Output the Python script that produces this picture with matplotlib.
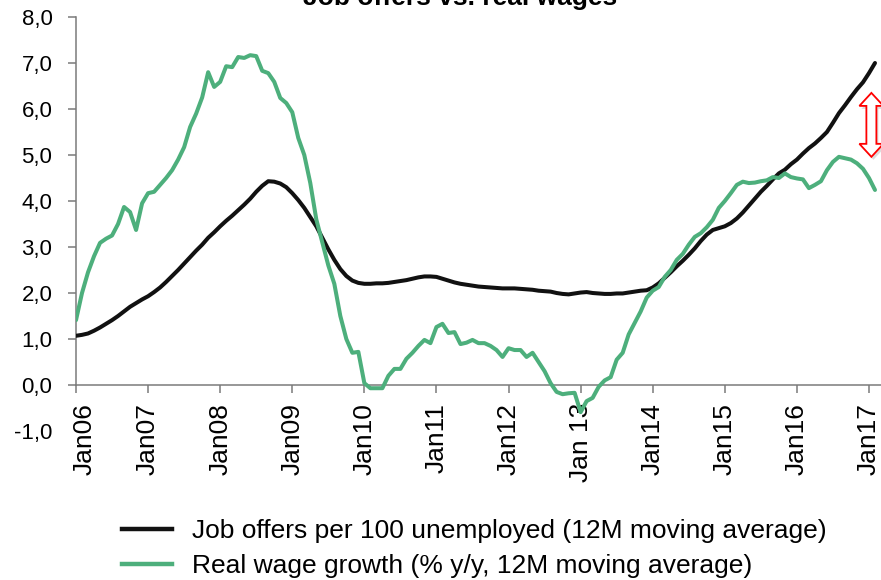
import numpy as np
import matplotlib
matplotlib.use("Agg")
import matplotlib.pyplot as plt
import matplotlib.patches as patches
import matplotlib.transforms as mtransforms
from matplotlib.lines import Line2D

plt.rcParams['font.family'] = ['Liberation Sans', 'DejaVu Sans']

# monthly data, Jan 2006 .. Feb 2017
job_offers = [
    1.07, 1.09, 1.12, 1.18, 1.25, 1.33, 1.41, 1.50, 1.60, 1.70, 1.78, 1.86,
    1.93, 2.02, 2.12, 2.24, 2.37, 2.50, 2.64, 2.78, 2.92, 3.05, 3.20, 3.32,
    3.45, 3.57, 3.68, 3.80, 3.92, 4.05, 4.20, 4.33, 4.43, 4.42, 4.38, 4.30,
    4.17, 4.02, 3.85, 3.65, 3.45, 3.20, 2.95, 2.72, 2.52, 2.37, 2.27, 2.22,
    2.20, 2.20, 2.21, 2.21, 2.22, 2.24, 2.26, 2.28, 2.31, 2.34, 2.36, 2.36,
    2.35, 2.31, 2.27, 2.23, 2.20, 2.18, 2.16, 2.14, 2.13, 2.12, 2.11, 2.10,
    2.10, 2.10, 2.09, 2.08, 2.07, 2.05, 2.04, 2.03, 2.00, 1.98, 1.97, 1.99,
    2.01, 2.02, 2.00, 1.99, 1.98, 1.98, 1.99, 1.99, 2.01, 2.03, 2.05, 2.06,
    2.12, 2.21, 2.33, 2.45, 2.58, 2.70, 2.83, 2.97, 3.13, 3.27, 3.37, 3.41,
    3.45, 3.52, 3.62, 3.75, 3.90, 4.05, 4.20, 4.33, 4.47, 4.60, 4.68, 4.80,
    4.90, 5.03, 5.15, 5.25, 5.37, 5.50, 5.70, 5.91, 6.08, 6.26, 6.43, 6.58,
    6.78, 7.00,
]
real_wages = [
    1.41, 2.00, 2.45, 2.80, 3.09, 3.18, 3.25, 3.50, 3.87, 3.76, 3.37, 3.95,
    4.17, 4.20, 4.35, 4.50, 4.67, 4.90, 5.17, 5.61, 5.90, 6.25, 6.80, 6.48,
    6.59, 6.93, 6.91, 7.13, 7.11, 7.17, 7.15, 6.83, 6.78, 6.59, 6.24, 6.13,
    5.93, 5.37, 5.00, 4.39, 3.60, 3.10, 2.60, 2.20, 1.50, 1.00, 0.70, 0.72,
    0.04, -0.07, -0.07, -0.07, 0.20, 0.35, 0.35, 0.57, 0.70, 0.85, 0.98, 0.91,
    1.26, 1.33, 1.13, 1.15, 0.89, 0.92, 0.98, 0.91, 0.91, 0.85, 0.76, 0.61,
    0.80, 0.76, 0.76, 0.61, 0.70, 0.50, 0.30, 0.04, -0.15, -0.20, -0.18, -0.17,
    -0.59, -0.35, -0.28, -0.04, 0.10, 0.17, 0.55, 0.70, 1.10, 1.35, 1.60, 1.90,
    2.05, 2.13, 2.35, 2.50, 2.72, 2.85, 3.05, 3.22, 3.30, 3.43, 3.59, 3.85,
    4.00, 4.17, 4.35, 4.42, 4.39, 4.40, 4.43, 4.45, 4.52, 4.50, 4.60, 4.52,
    4.49, 4.47, 4.28, 4.35, 4.43, 4.67, 4.85, 4.96, 4.93, 4.90, 4.82, 4.70,
    4.50, 4.24,
]
year_labels = ["Jan06", "Jan07", "Jan08", "Jan09", "Jan10", "Jan11",
               "Jan12", "Jan 13", "Jan14", "Jan15", "Jan16", "Jan17"]
y_ticks = [-1, 0, 1, 2, 3, 4, 5, 6, 7, 8]
series_names = ["Job offers per 100 unemployed (12M moving average)",
                "Real wage growth (% y/y, 12M moving average)"]

# gap marker (red double arrow) at the right end
gap_x = 132.4
gap_lo, gap_hi = 4.96, 6.35

black = '#111111'
green = '#4daf7c'
axis_gray = '#7a7a7a'

fig = plt.figure(figsize=(8.81, 5.80), dpi=100)
ax = fig.add_axes([76 / 881, 1 - 431 / 580, 1 - 76 / 881, (431 - 17) / 580])

months = np.arange(len(job_offers))
ax.plot(months, job_offers, color=black, lw=2.9, solid_capstyle='round', zorder=3)
ax.plot(months, real_wages, color=green, lw=2.9, solid_capstyle='round', zorder=4)

ax.set_xlim(0, 134)
ax.set_ylim(-1, 8)

for s in ['top', 'right']:
    ax.spines[s].set_visible(False)
ax.spines['bottom'].set_position(('data', 0))
ax.spines['left'].set_bounds(0, 8)
for s in ['bottom', 'left']:
    ax.spines[s].set_color(axis_gray)
    ax.spines[s].set_linewidth(1.1)

ax.set_yticks(y_ticks)
ax.set_yticklabels([f"{v:.1f}".replace('.', ',') for v in y_ticks])
ax.tick_params(axis='y', direction='out', length=6, width=1.1, color=axis_gray,
               pad=11, labelsize=16, labelcolor='black')
ax.yaxis.get_major_ticks()[0].tick1line.set_visible(False)

ax.set_xticks(np.arange(len(year_labels)) * 12)
ax.set_xticklabels(year_labels, rotation=90, ha='center', va='top')
ax.tick_params(axis='x', direction='out', length=6, width=1.1, color=axis_gray,
               pad=7, labelsize=19, labelcolor='black')
# first label sits to the right of the y axis
first = ax.get_xticklabels()[0]
first.set_transform(first.get_transform() +
                    mtransforms.ScaledTranslation(9 / 100, 0, fig.dpi_scale_trans))

# hollow double arrow built from pixel sizes
px_x = 134 / 805.0
px_y = 9 / 414.0
sw, hw, hl = 5 * px_x, 12 * px_x, 13 * px_y
pts = [
    (gap_x, gap_hi), (gap_x + hw, gap_hi - hl), (gap_x + sw, gap_hi - hl),
    (gap_x + sw, gap_lo + hl), (gap_x + hw, gap_lo + hl), (gap_x, gap_lo),
    (gap_x - hw, gap_lo + hl), (gap_x - sw, gap_lo + hl),
    (gap_x - sw, gap_hi - hl), (gap_x - hw, gap_hi - hl),
]
shadow = [(x + 2 * px_x, y - 3 * px_y) for x, y in pts]
ax.add_patch(patches.Polygon(shadow, closed=True, facecolor='#bbbbbb',
                             edgecolor='none', alpha=0.5, zorder=5, clip_on=False))
ax.add_patch(patches.Polygon(pts, closed=True, facecolor='white',
                             edgecolor='#ff0000', lw=1.3, zorder=6, clip_on=False))

fig.text(460 / 881, 1 - 5 / 580, "Job offers vs. real wages", ha='center',
         va='baseline', fontsize=19, fontweight='bold')

handles = [Line2D([], [], color=black, lw=3.2), Line2D([], [], color=green, lw=3.2)]
fig.legend(handles, series_names, loc='upper left',
           bbox_to_anchor=(122 / 881, 1 - 519 / 580), frameon=False,
           fontsize=19, handlelength=1.9, handletextpad=0.75,
           labelspacing=0.42, borderpad=0, borderaxespad=0)

fig.savefig("out.png", dpi=100)
